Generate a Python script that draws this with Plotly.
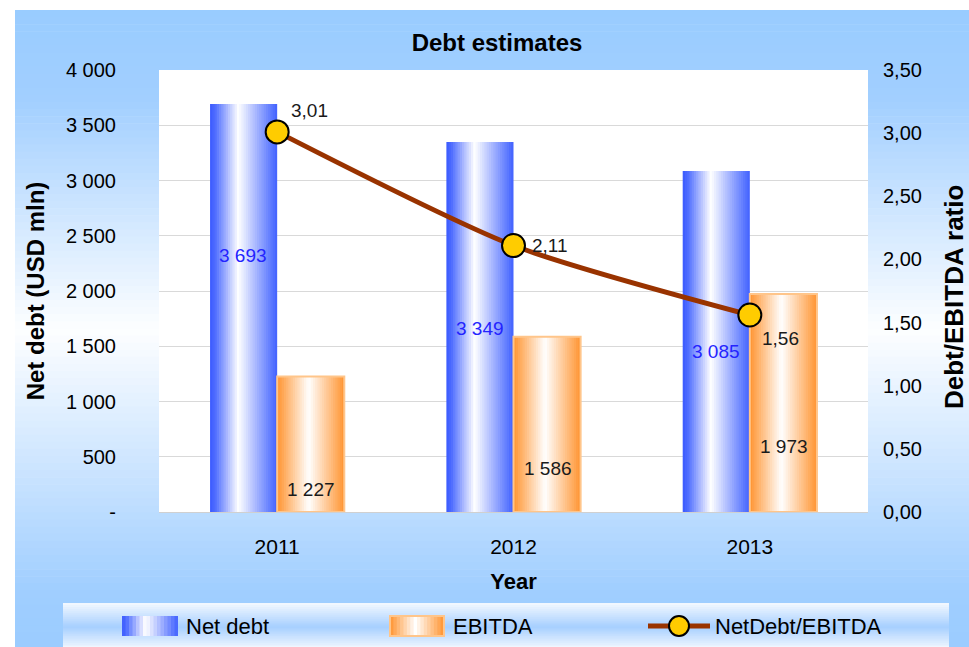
import plotly.graph_objects as go

# ---------------- data ----------------
years = ["2011", "2012", "2013"]
net_debt = [3693, 3349, 3085]
ebitda = [1227, 1586, 1973]
ratio = [3.01, 2.11, 1.56]
net_debt_text = ["3 693", "3 349", "3 085"]
ebitda_text = ["1 227", "1 586", "1 973"]
ratio_text = ["3,01", "2,11", "1,56"]
left_tickvals = [0, 500, 1000, 1500, 2000, 2500, 3000, 3500, 4000]
left_ticktext = ["-", "500", "1 000", "1 500", "2 000", "2 500", "3 000", "3 500", "4 000"]
right_tickvals = [0, 0.5, 1.0, 1.5, 2.0, 2.5, 3.0, 3.5]
right_ticktext = ["0,00", "0,50", "1,00", "1,50", "2,00", "2,50", "3,00", "3,50"]

# ---------------- geometry / style ----------------
W, H = 969, 647
ML, MR, MT, MB = 159, 101, 70, 135
PW, PH = W - ML - MR, H - MT - MB
SANS = "Liberation Sans, Arial, sans-serif"

def px_x(px):
    return (px - ML) / PW

def px_y(py):
    return (H - MB - py) / PH

def lerp(c1, c2, t):
    return tuple(int(round(a + (b - a) * t)) for a, b in zip(c1, c2))

def grad(stops, t):
    for (t0, c0), (t1, c1) in zip(stops, stops[1:]):
        if t <= t1:
            return lerp(c0, c1, (t - t0) / (t1 - t0) if t1 > t0 else 0)
    return stops[-1][1]

def rgb(c):
    return "rgb(%d,%d,%d)" % c

fig = go.Figure()

# ---------------- gradient bars (sliced) ----------------
BW = 0.284
N = 30
blue_stops = [(0.0, (58, 90, 255)), (0.08, (80, 110, 255)), (0.42, (255, 255, 255)),
              (0.9, (96, 124, 255)), (1.0, (66, 98, 255))]
orange_stops = [(0.0, (255, 148, 48)), (0.47, (255, 255, 255)), (1.0, (255, 148, 48))]

for i in range(N):
    t = (i + 0.5) / N
    w = BW / N * (1.6 if i < N - 1 else 1.0)
    fig.add_trace(go.Bar(
        x=years, y=net_debt, width=w, offset=-BW + i * BW / N,
        marker=dict(color=rgb(grad(blue_stops, t)), line=dict(width=0)),
        name="Net debt", showlegend=False, hoverinfo="skip", yaxis="y"))
for i in range(N):
    t = (i + 0.5) / N
    w = BW / N * (1.6 if i < N - 1 else 1.0)
    fig.add_trace(go.Bar(
        x=years, y=ebitda, width=w, offset=i * BW / N,
        marker=dict(color=rgb(grad(orange_stops, t)), line=dict(width=0)),
        name="EBITDA", showlegend=False, hoverinfo="skip", yaxis="y"))
fig.add_trace(go.Bar(
    x=years, y=ebitda, width=BW, offset=0,
    marker=dict(color="rgba(0,0,0,0)", line=dict(width=2, color="#FFC58A")),
    showlegend=False, hoverinfo="skip", yaxis="y"))

# ---------------- ratio line ----------------
fig.add_trace(go.Scatter(
    x=years, y=ratio, yaxis="y2", mode="lines+markers",
    name="NetDebt/EBITDA", showlegend=False, hoverinfo="skip",
    line=dict(color="#993300", width=5, shape="spline", smoothing=0.7),
    marker=dict(size=23, color="#FFCC00", line=dict(color="black", width=2)),
))

# ---------------- data labels ----------------
annotations = []
nd_label_y = [2320, 1660, 1450]
eb_label_y = [200, 390, 590]
for i, (yy, txt) in enumerate(zip(nd_label_y, net_debt_text)):
    annotations.append(dict(x=i, y=yy, xref="x", yref="y", text=txt, showarrow=False,
                            xshift=-34, font=dict(family=SANS, size=19, color="#2424FF")))
for i, (yy, txt) in enumerate(zip(eb_label_y, ebitda_text)):
    annotations.append(dict(x=i, y=yy, xref="x", yref="y", text=txt, showarrow=False,
                            xshift=34, font=dict(family=SANS, size=19, color="#1A1A1A")))
ratio_shift = [(32, 21), (36, 0), (31, -24)]
for i, (v, txt, (dx, dy)) in enumerate(zip(ratio, ratio_text, ratio_shift)):
    annotations.append(dict(x=i, y=v, xref="x", yref="y2", text=txt, showarrow=False,
                            xshift=dx, yshift=dy, font=dict(family=SANS, size=19, color="#1A1A1A")))

# right axis title (placed as rotated text so it does not push the margin)
annotations.append(dict(x=px_x(954), y=px_y(297), xref="paper", yref="paper",
                        text="<b>Debt/EBITDA ratio</b>", textangle=-90, showarrow=False,
                        xanchor="center", yanchor="middle",
                        font=dict(family=SANS, size=26, color="black")))

# ---------------- background decoration ----------------
shapes = []
bg_stops = [(10, (153, 204, 255)), (100, (162, 207, 255)), (330, (253, 254, 255)),
            (590, (160, 206, 255)), (647, (155, 204, 255))]
top, bot = 10, 647
nb = 90
for k in range(nb):
    y0 = top + (bot - top) * k / nb
    y1 = top + (bot - top) * (k + 1) / nb
    ym = (y0 + y1) / 2
    c = grad([((s - top) / (bot - top), col) for s, col in bg_stops], (ym - top) / (bot - top))
    shapes.append(dict(type="rect", xref="paper", yref="paper",
                       x0=px_x(15), x1=px_x(W + 2), y0=px_y(y1 + 0.6), y1=px_y(y0),
                       fillcolor=rgb(c), line=dict(width=0), layer="below"))
# legend box gradient
lg_stops = [(603, (244, 249, 255)), (627, (166, 207, 255)), (650, (250, 252, 255))]
lt, lb = 603, 650
nl = 24
for k in range(nl):
    y0 = lt + (lb - lt) * k / nl
    y1 = lt + (lb - lt) * (k + 1) / nl
    ym = (y0 + y1) / 2
    c = grad([((s - lt) / (lb - lt), col) for s, col in lg_stops], (ym - lt) / (lb - lt))
    shapes.append(dict(type="rect", xref="paper", yref="paper",
                       x0=px_x(63), x1=px_x(949), y0=px_y(y1 + 0.6), y1=px_y(y0),
                       fillcolor=rgb(c), line=dict(width=0), layer="below"))
# white plot area
shapes.append(dict(type="rect", xref="paper", yref="paper", x0=0, x1=1, y0=0, y1=1,
                   fillcolor="white", line=dict(width=0), layer="below"))

# ---------------- legend (drawn as decoration) ----------------
LEG_Y = 626
def icon_gradient(xa, xb, stops, border=None):
    n = 16
    for k in range(n):
        t = (k + 0.5) / n
        xs0 = xa + (xb - xa) * k / n
        xs1 = xa + (xb - xa) * (k + 1) / n + 0.6
        shapes.append(dict(type="rect", xref="paper", yref="paper",
                           x0=px_x(xs0), x1=px_x(min(xs1, xb)), y0=px_y(LEG_Y + 10), y1=px_y(LEG_Y - 10),
                           fillcolor=rgb(grad(stops, t)), line=dict(width=0)))
    if border:
        shapes.append(dict(type="rect", xref="paper", yref="paper",
                           x0=px_x(xa), x1=px_x(xb), y0=px_y(LEG_Y + 10), y1=px_y(LEG_Y - 10),
                           line=dict(color=border, width=2)))

icon_gradient(122, 178, blue_stops)
icon_gradient(390, 444, orange_stops, border="#FFC58A")
shapes.append(dict(type="line", xref="paper", yref="paper",
                   x0=px_x(648), x1=px_x(710), y0=px_y(LEG_Y), y1=px_y(LEG_Y),
                   line=dict(color="#993300", width=5)))
shapes.append(dict(type="circle", xref="paper", yref="paper",
                   x0=px_x(669), x1=px_x(689), y0=px_y(LEG_Y + 10), y1=px_y(LEG_Y - 10),
                   fillcolor="#FFCC00", line=dict(color="black", width=2)))
legend_items = [("Net debt", 184), ("EBITDA", 451), ("NetDebt/EBITDA", 713)]
for txt, xpx in legend_items:
    annotations.append(dict(x=px_x(xpx), y=px_y(LEG_Y), xref="paper", yref="paper",
                            xanchor="left", yanchor="middle", text=txt, showarrow=False,
                            font=dict(family=SANS, size=22, color="black")))

fig.update_layout(
    width=W, height=H,
    margin=dict(l=ML, r=MR, t=MT, b=MB, pad=0),
    paper_bgcolor="white",
    plot_bgcolor="rgba(0,0,0,0)",
    barmode="overlay",
    showlegend=False,
    title=dict(text="<b>Debt estimates</b>", x=px_x(497), xref="paper", xanchor="center",
               y=1 - 43 / H, yanchor="middle",
               font=dict(family=SANS, size=24, color="black")),
    xaxis=dict(type="category", categoryorder="array", categoryarray=years,
               range=[-0.5, 2.5], showgrid=False, showline=True, linecolor="#D0D0D0", linewidth=1,
               ticks="outside", ticklen=16, tickcolor="rgba(0,0,0,0)",
               tickfont=dict(family=SANS, size=21, color="black"),
               title=dict(text="<b>Year</b>", standoff=16, font=dict(family=SANS, size=22, color="black"))),
    yaxis=dict(range=[0, 4000], tickvals=left_tickvals, ticktext=left_ticktext,
               showgrid=True, gridcolor="#D9D9D9", gridwidth=1, zeroline=False, showline=False,
               ticks="outside", ticklen=38, tickcolor="rgba(0,0,0,0)",
               tickfont=dict(family=SANS, size=20, color="black"),
               title=dict(text="<b>Net debt (USD mln)</b>", standoff=14,
                          font=dict(family=SANS, size=24, color="black"))),
    yaxis2=dict(range=[0, 3.5], overlaying="y", side="right", tickvals=right_tickvals,
                ticktext=right_ticktext, showgrid=False, zeroline=False, showline=False,
                ticks="outside", ticklen=10, tickcolor="rgba(0,0,0,0)",
                tickfont=dict(family=SANS, size=20, color="black")),
    shapes=shapes,
    annotations=annotations,
)

fig.write_html("out.html", config={"displayModeBar": False},
               post_script="document.body.style.margin='0';document.body.style.overflow='hidden';")
